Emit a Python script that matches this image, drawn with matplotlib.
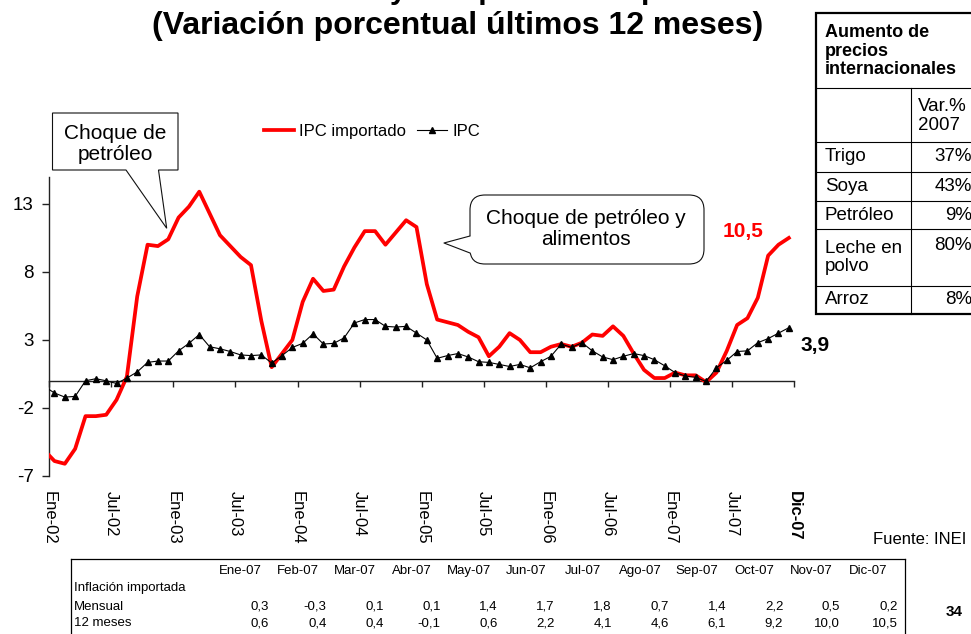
import matplotlib
matplotlib.use("Agg")
import matplotlib.pyplot as plt
from matplotlib.patches import Polygon, FancyBboxPatch, Rectangle
import numpy as np

plt.rcParams['font.family'] = ['Liberation Sans', 'DejaVu Sans']
plt.rcParams['axes.unicode_minus'] = False

# ---------------- data ----------------
# monthly series Dic-01 .. Dic-07 (first value only partly visible at the axis)
ipc_importado_02_06 = [-5.1,
    -5.9, -6.1, -5.0, -2.6, -2.6, -2.5, -1.4, 0.3, 6.2, 10.0, 9.9, 10.4,      # 2002
    12.0, 12.8, 13.9, 12.3, 10.7, 9.9, 9.1, 8.5, 4.4, 1.0, 2.0, 3.0,          # 2003
    5.8, 7.5, 6.6, 6.7, 8.4, 9.8, 11.0, 11.0, 10.0, 10.9, 11.8, 11.3,         # 2004
    7.1, 4.5, 4.3, 4.1, 3.6, 3.2, 1.8, 2.5, 3.5, 3.0, 2.1, 2.1,               # 2005
    2.5, 2.7, 2.5, 2.8, 3.4, 3.3, 4.0, 3.3, 2.0, 0.8, 0.2, 0.2]               # 2006
ipc = [-0.4,
    -0.9, -1.2, -1.15, 0.0, 0.15, 0.0, -0.2, 0.2, 0.65, 1.35, 1.45, 1.45,      # 2002
    2.2, 2.75, 3.4, 2.5, 2.35, 2.15, 1.9, 1.85, 1.9, 1.3, 1.85, 2.45,         # 2003
    2.75, 3.45, 2.7, 2.75, 3.15, 4.25, 4.5, 4.5, 4.0, 3.95, 4.0, 3.5,         # 2004
    3.0, 1.65, 1.85, 2.0, 1.75, 1.4, 1.35, 1.2, 1.05, 1.2, 0.95, 1.4,         # 2005
    1.8, 2.7, 2.45, 2.8, 2.2, 1.75, 1.55, 1.8, 2.0, 1.85, 1.55, 1.1,          # 2006
    0.6, 0.35, 0.25, -0.05, 0.95, 1.5, 2.15, 2.2, 2.8, 3.1, 3.5, 3.9]         # 2007

meses_2007 = ['Ene-07', 'Feb-07', 'Mar-07', 'Abr-07', 'May-07', 'Jun-07',
              'Jul-07', 'Ago-07', 'Sep-07', 'Oct-07', 'Nov-07', 'Dic-07']
mensual = [0.3, -0.3, 0.1, 0.1, 1.4, 1.7, 1.8, 0.7, 1.4, 2.2, 0.5, 0.2]
doce_meses = [0.6, 0.4, 0.4, -0.1, 0.6, 2.2, 4.1, 4.6, 6.1, 9.2, 10.0, 10.5]

ipc_importado = ipc_importado_02_06 + doce_meses

x_labels = ['Ene-02', 'Jul-02', 'Ene-03', 'Jul-03', 'Ene-04', 'Jul-04', 'Ene-05',
            'Jul-05', 'Ene-06', 'Jul-06', 'Ene-07', 'Jul-07', 'Dic-07']
y_ticks = [-7, -2, 3, 8, 13]

productos = ['Trigo', 'Soya', 'Petróleo', 'Leche en\npolvo', 'Arroz']
var_2007 = ['37%', '43%', '9%', '80%', '8%']

# ---------------- figure ----------------
W, H = 971, 634
fig = plt.figure(figsize=(W / 100, H / 100), dpi=100)

ax = fig.add_axes([49.3 / W, 1 - 476 / H, (794 - 49.3) / W, (476 - 176.7) / H])
x = np.arange(-1, len(ipc_importado) - 1)
ax.plot(x, ipc_importado, color='#ff0000', lw=2.7, label='IPC importado', zorder=3)
ax.plot(x, ipc, color='black', lw=0.8, marker='^', ms=5, label='IPC', zorder=4)
ax.set_xlim(-0.5, 71.5)
ax.set_ylim(-7, 15)
for s in ['top', 'right']:
    ax.spines[s].set_visible(False)
ax.spines['bottom'].set_position(('data', 0))
for s in ['bottom', 'left']:
    ax.spines[s].set_linewidth(1.0)
    ax.spines[s].set_color('#222222')
ticks = np.arange(-0.5, 72, 6)
ax.set_xticks(ticks)
ax.tick_params(axis='x', direction='out', length=4.2, width=1.0, labelbottom=False, color='#222222')
ax.set_yticks(y_ticks)
ax.tick_params(axis='y', direction='out', length=4.8, width=1.0, labelsize=13.5, pad=6.5, color='#222222')
ax.patch.set_alpha(0)

sec = ax.secondary_xaxis(0)
sec.set_xticks(ticks, labels=x_labels)
for s in sec.spines.values():
    s.set_visible(False)
sec.tick_params(axis='x', length=0, pad=11, labelsize=12)
for lab in sec.get_xticklabels():
    lab.set_rotation(-90)
sec.get_xticklabels()[-1].set_fontweight('bold')

ax.legend(loc='center', bbox_to_anchor=(372 / W, 1 - 131 / H), bbox_transform=fig.transFigure,
          ncol=2, frameon=False, fontsize=12, handlelength=1.8, handletextpad=0.3,
          columnspacing=0.7)

# ---------------- overlay in pixel coordinates ----------------
ov = fig.add_axes([0, 0, 1, 1])
ov.set_xlim(0, W)
ov.set_ylim(H, 0)
ov.axis('off')
ov.patch.set_alpha(0)

# titles (first line cut by the top edge: only descenders remain visible)
ov.text(256, -2, 'Inflación y componente importado', ha='left', va='baseline',
        fontsize=22, fontweight='bold')
ov.text(458, 26, '(Variación porcentual últimos 12 meses)', ha='center', va='center',
        fontsize=23, fontweight='bold')

# callout 1
ov.add_patch(Polygon([(52.5, 113), (178, 113), (178, 170), (158.5, 170), (166.7, 228.3),
                      (126, 170), (52.5, 170)], closed=True, fc='white', ec='#111111', lw=0.8,
                     zorder=5))
ov.text(115.5, 144, 'Choque de\npetróleo', ha='center', va='center', fontsize=15,
        linespacing=1.15, zorder=6)

# callout 2
ov.add_patch(FancyBboxPatch((470, 195), 234, 69, boxstyle='round,pad=0,rounding_size=15',
                            fc='white', ec='#111111', lw=0.8, zorder=5))
ov.add_patch(Polygon([(471.5, 235.5), (444, 243), (471.5, 253.5)], closed=True, fc='white',
                     ec='none', zorder=6))
ov.plot([470, 444, 470], [236, 243, 253], color='#111111', lw=0.8, zorder=7)
ov.text(586, 229, 'Choque de petróleo y\nalimentos', ha='center', va='center', fontsize=15,
        linespacing=1.15, zorder=8)

# end labels
ov.text(743, 231, '{:.1f}'.format(ipc_importado[-1]).replace('.', ','), ha='center',
        va='center', fontsize=15, fontweight='bold', color='#ff0000')
ov.text(815, 345, '{:.1f}'.format(ipc[-1]).replace('.', ','), ha='center', va='center',
        fontsize=15, fontweight='bold', color='black')

# right table
tl, tr, tt, tb = 816, 975, 12.7, 314
row_lines = [88.3, 141.7, 171.7, 200.7, 229.3, 285.7]
colx = 910.7
ov.add_patch(Rectangle((tl, tt), tr - tl, tb - tt, fc='white', ec='black', lw=1.6, zorder=5))
for yl in row_lines:
    ov.plot([tl, tr], [yl, yl], color='black', lw=0.8, zorder=6)
ov.plot([colx, colx], [row_lines[0], tb], color='black', lw=0.8, zorder=6)
ov.text(825, 51, 'Aumento de\nprecios\ninternacionales', ha='left', va='center',
        fontsize=13, fontweight='bold', linespacing=1.15, zorder=7)
ov.text(918, 116, 'Var.%\n2007', ha='left', va='center', fontsize=13.5, linespacing=1.12,
        zorder=7)
bounds = row_lines[1:] + [tb]
for i, (prod, val) in enumerate(zip(productos, var_2007)):
    top, bot = bounds[i], bounds[i + 1]
    yc = (top + bot) / 2
    ov.text(825, yc, prod, ha='left', va='center', fontsize=13.5, linespacing=1.12, zorder=7)
    ov.text(972, yc if '\n' not in prod else top + 16, val, ha='right', va='center',
            fontsize=13.5, zorder=7)

# source and page number
ov.text(920, 540, 'Fuente: INEI', ha='center', va='center', fontsize=12)
ov.text(954, 612, '34', ha='center', va='center', fontsize=11, fontweight='bold')

# bottom table
bl, br, bt = 70.7, 905, 559.3
ov.plot([bl, br], [bt, bt], color='black', lw=0.9)
ov.plot([bl, bl], [bt, H + 2], color='black', lw=0.9)
ov.plot([br, br], [bt, H + 2], color='black', lw=0.9)
fs_t = 9.5
ov.text(74, 588, 'Inflación importada', ha='left', va='center', fontsize=fs_t)
ov.text(74, 606.5, 'Mensual', ha='left', va='center', fontsize=fs_t)
ov.text(74, 623, '12 meses', ha='left', va='center', fontsize=fs_t)
for j, (m, v1, v2) in enumerate(zip(meses_2007, mensual, doce_meses)):
    xr = 269.3 + 57.1 * j
    ov.text(xr - 29, 571, m, ha='center', va='center', fontsize=fs_t)
    ov.text(xr, 606.5, '{:.1f}'.format(v1).replace('.', ','), ha='right', va='center',
            fontsize=fs_t)
    ov.text(xr, 623, '{:.1f}'.format(v2).replace('.', ','), ha='right', va='center',
            fontsize=fs_t)

fig.savefig('out.png', dpi=100)
